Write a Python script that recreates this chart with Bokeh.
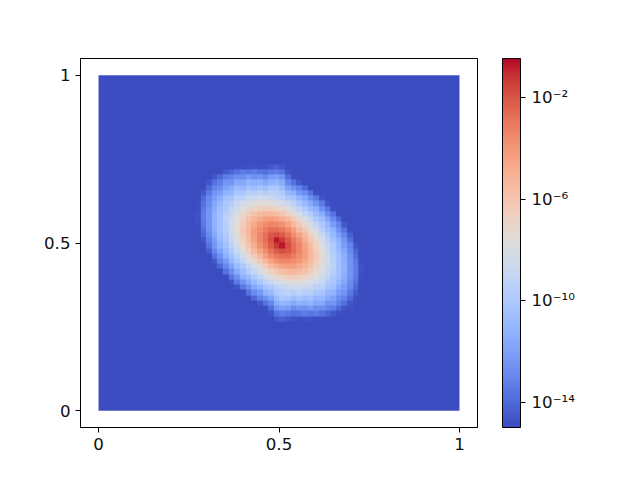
import numpy as np
from bokeh.plotting import figure
from bokeh.models import LogColorMapper, ColorBar, FixedTicker, Range1d
from bokeh.embed import file_html
from bokeh.resources import INLINE

x_ticks = [0, 0.5, 1]
x_labels = {0: "0", 0.5: "0.5", 1: "1"}
cbar_ticks = [1e-14, 1e-10, 1e-6, 1e-2]
cbar_labels = {1e-14: "10⁻¹⁴", 1e-10: "10⁻¹⁰", 1e-6: "10⁻⁶", 1e-2: "10⁻²"}
value_low = 1e-15
value_high = 0.35

# matplotlib coolwarm, sampled
coolwarm_rgb = [(59,76,192),(68,90,204),(77,104,215),(87,117,225),(98,130,234),(108,142,241),(119,154,247),
 (130,165,251),(141,176,254),(152,185,255),(163,194,255),(174,201,253),(184,208,249),(194,213,244),(204,217,238),
 (213,219,230),(221,221,221),(229,216,209),(236,211,197),(241,204,185),(245,196,173),(247,187,160),(247,177,148),
 (247,166,135),(244,154,123),(241,141,111),(236,127,99),(229,112,88),(222,96,77),(213,80,66),(203,62,56),(192,40,47),(180,4,38)]

# log10 of the field, read by eye. Cells of 1/64 over x, y in 0.25..0.75; rows run top to bottom
E = -15
log_field = [
[E]*32,
[E]*8+[-14.9,-14.9,-14.8,-14.8,-14.9,-14.8,-14.6,-14.3,-14.6]+[E]*15,
[E]*5+[-14.9,-14.5,-14.1,-13.7,-13.4,-13.6,-13.3,-13.6,-13.8,-13.5,-13.3,-13.7,-14.7]+[E]*14,
[E]*4+[-14.7,-14,-13.3,-13.1,-12.7,-12.7,-12.2,-12.6,-12.4,-12.8,-12.2,-12,-12.5,-13.9,-14.9]+[E]*13,
[E]*3+[-14.7,-13.8,-13.2,-12.4,-12.5,-11.7,-11.6,-11.1,-11.4,-11.2,-11.6,-11.2,-11,-11.5,-13,-13.7,-14.6]+[E]*12,
[E]*2+[-14.9,-14,-13.1,-12.7,-11.9,-11.5,-10.8,-11,-10.4,-10.7,-10.3,-10.6,-10.1,-10.1,-10.8,-11.9,-12.6,-13.1,-14,-15]+[E]*10,
[E]*2+[-14.5,-13.5,-12.5,-12.1,-11.1,-11,-10.2,-10.2,-9.6,-9.7,-9.3,-9.7,-9.3,-9.5,-9.9,-10.9,-11.2,-12.3,-12.8,-13.7,-14.9]+[E]*9,
[E]*2+[-14,-13,-12.2,-11.5,-10.5,-10.3,-9.4,-9.4,-8.7,-8.8,-8.4,-8.6,-8.7,-9.1,-9.3,-10.1,-10.3,-11.1,-11.7,-12.7,-13.5,-14.7]+[E]*8,
[E]*1+[-14.9,-13.7,-12.8,-11.7,-11,-10.2,-9.8,-8.9,-8.5,-8,-7.9,-7.5,-7.6,-7.6,-7.9,-8.2,-8.8,-9.4,-10.1,-10.8,-11.6,-12.5,-13.4,-14.7]+[E]*7,
[E]*1+[-14.9,-13.5,-12.5,-11.5,-10.6,-10.1,-9.1,-8.5,-7.8,-7.3,-6.8,-6.6,-6.4,-6.5,-6.8,-7.2,-7.8,-8.3,-9.2,-10,-10.8,-11.3,-12.6,-13.5,-14.9]+[E]*6,
[E]*1+[-14.8,-13.4,-12.4,-11.3,-10.5,-9.6,-8.9,-7.9,-7.2,-6.5,-5.9,-5.4,-5.2,-5.3,-5.6,-6,-6.7,-7.4,-8.1,-9,-9.8,-10.7,-11.5,-12.7,-13.7,-15]+[E]*5,
[E]*1+[-14.8,-13.4,-12.5,-11.1,-10.5,-9.4,-8.7,-7.7,-6.9,-5.9,-5.2,-4.7,-4.3,-4.3,-4.4,-4.9,-5.4,-6.3,-7.2,-8.1,-9,-10,-10.7,-11.8,-12.9,-14]+[E]*5,
[E]*1+[-14.9,-13.5,-12.5,-11.3,-10.4,-9.5,-8.4,-7.5,-6.5,-5.4,-4.7,-4,-3.6,-3.4,-3.5,-3.8,-4.4,-5.3,-6.2,-7.2,-8.1,-9.2,-10.1,-11,-12.2,-13.1,-14.6]+[E]*4,
[E]*2+[-13.9,-12.6,-11.4,-10.4,-9.7,-8.4,-7.5,-6.3,-5.3,-4.3,-3.6,-3.1,-2.7,-2.7,-3,-3.5,-4.3,-5.3,-6.2,-7.4,-8.3,-9.5,-10.5,-11.2,-12.6,-13.7,-15]+[E]*3,
[E]*2+[-14.2,-12.9,-11.7,-10.7,-9.8,-8.7,-7.7,-6.5,-5.3,-4.3,-3.4,-2.7,-2.1,-1.8,-2.2,-2.8,-3.6,-4.4,-5.4,-6.6,-7.8,-8.8,-10,-10.8,-11.9,-13,-14.4]+[E]*3,
[E]*2+[-14.7,-13.2,-12.2,-10.9,-10.1,-8.9,-7.9,-6.8,-5.6,-4.4,-3.5,-2.7,-1.8,-0.7,-1.3,-2.2,-3,-3.8,-4.9,-6.1,-7.2,-8.2,-9.4,-10.4,-11.3,-12.5,-13.8,-15]+[E]*2,
[E]*2+[-15,-13.7,-12.5,-11.2,-10.5,-9.3,-8.3,-7.2,-6,-4.9,-3.8,-3,-2.2,-1.3,-0.7,-1.8,-2.7,-3.5,-4.4,-5.6,-6.8,-7.9,-9,-10,-11,-12.2,-13.1,-14.7]+[E]*2,
[E]*3+[-14.4,-13,-11.9,-10.8,-10,-8.8,-7.8,-6.6,-5.4,-4.4,-3.6,-2.8,-2.2,-1.8,-2.1,-2.7,-3.4,-4.3,-5.3,-6.5,-7.7,-8.7,-9.8,-10.7,-11.7,-12.9,-14.2]+[E]*2,
[E]*3+[-15,-13.7,-12.6,-11.2,-10.5,-9.5,-8.3,-7.4,-6.2,-5.3,-4.3,-3.5,-3,-2.7,-2.7,-3.1,-3.6,-4.3,-5.3,-6.3,-7.5,-8.4,-9.7,-10.4,-11.4,-12.6,-13.9]+[E]*2,
[E]*4+[-14.6,-13.1,-12.2,-11,-10.1,-9.2,-8.1,-7.2,-6.2,-5.3,-4.4,-3.8,-3.5,-3.4,-3.6,-4,-4.7,-5.4,-6.5,-7.5,-8.4,-9.5,-10.4,-11.3,-12.5,-13.5,-14.9]+[E]*1,
[E]*5+[-14,-12.9,-11.8,-10.7,-10,-9,-8.1,-7.2,-6.3,-5.4,-4.9,-4.4,-4.3,-4.3,-4.7,-5.2,-5.9,-6.9,-7.7,-8.7,-9.4,-10.5,-11.1,-12.5,-13.4,-14.8]+[E]*1,
[E]*5+[-15,-13.7,-12.7,-11.5,-10.7,-9.8,-9,-8.1,-7.4,-6.7,-6,-5.6,-5.3,-5.2,-5.4,-5.9,-6.5,-7.2,-7.9,-8.9,-9.6,-10.5,-11.3,-12.4,-13.4,-14.8]+[E]*1,
[E]*6+[-14.9,-13.5,-12.6,-11.3,-10.8,-10,-9.2,-8.3,-7.8,-7.2,-6.8,-6.5,-6.4,-6.6,-6.8,-7.3,-7.8,-8.5,-9.1,-10.1,-10.6,-11.5,-12.5,-13.5,-14.9]+[E]*1,
[E]*7+[-14.7,-13.4,-12.5,-11.6,-10.8,-10.1,-9.4,-8.8,-8.2,-7.9,-7.6,-7.6,-7.5,-7.9,-8,-8.5,-8.9,-9.8,-10.2,-11,-11.7,-12.8,-13.7,-14.9]+[E]*1,
[E]*8+[-14.7,-13.5,-12.7,-11.7,-11.1,-10.3,-10.1,-9.3,-9.1,-8.7,-8.6,-8.4,-8.8,-8.7,-9.4,-9.4,-10.3,-10.5,-11.5,-12.2,-13,-14]+[E]*2,
[E]*9+[-14.9,-13.7,-12.8,-12.3,-11.2,-10.9,-9.9,-9.5,-9.3,-9.7,-9.3,-9.7,-9.6,-10.2,-10.2,-11,-11.1,-12.1,-12.5,-13.5,-14.5]+[E]*2,
[E]*10+[-15,-14,-13.1,-12.6,-11.9,-10.8,-10.1,-10.1,-10.6,-10.3,-10.7,-10.4,-11,-10.8,-11.5,-11.9,-12.7,-13.1,-14,-14.9]+[E]*2,
[E]*12+[-14.6,-13.7,-13,-11.5,-11,-11.2,-11.6,-11.2,-11.4,-11.1,-11.6,-11.7,-12.5,-12.4,-13.2,-13.8,-14.7,-14.9]+[E]*2,
[E]*13+[-14.9,-13.9,-12.5,-12,-12.2,-12.8,-12.4,-12.6,-12.2,-12.7,-12.7,-13.1,-13.3,-14,-14.7,-14.8]+[E]*3,
[E]*14+[-14.7,-13.7,-13.3,-13.5,-13.8,-13.6,-13.3,-13.6,-13.4,-13.7,-14.1,-14.5,-14.9,-14.9]+[E]*4,
[E]*15+[-14.6,-14.3,-14.6,-14.8,-14.9,-14.8,-14.8,-14.9,-14.9,-14.9,-15,-15]+[E]*5,
[E]*32,
]

rgb = np.array(coolwarm_rgb, dtype=float)
pos = np.linspace(0, 1, len(rgb))
palette = ["#%02x%02x%02x" % tuple(int(round(np.interp(t, pos, rgb[:, c]))) for c in range(3))
           for t in np.linspace(0, 1, 256)]
mapper = LogColorMapper(palette=palette, low=value_low, high=value_high)

N = 64
full = np.full((N, N), value_low)
patch = 10.0 ** np.array(log_field, dtype=float)[::-1]
full[16:48, 16:48] = patch

FONT = "DejaVu Sans"
p = figure(width=632, height=472, frame_width=397, frame_height=369,
           x_range=Range1d(-0.05, 1.05), y_range=Range1d(-0.05, 1.05),
           output_backend="svg", toolbar_location=None,
           min_border_left=80, min_border_top=58, min_border_bottom=45, min_border_right=10)
p.image(image=[full], x=0, y=0, dw=1, dh=1, color_mapper=mapper)
p.grid.visible = False
p.background_fill_color = "white"
p.outline_line_color = "black"
p.outline_line_width = 1
for ax in (p.xaxis[0], p.yaxis[0]):
    ax.ticker = FixedTicker(ticks=x_ticks)
    ax.major_label_overrides = x_labels
    ax.major_label_text_font = FONT
    ax.major_label_text_font_size = "16.67px"
    ax.major_label_text_color = "#111111"
    ax.major_tick_in = 0
    ax.major_tick_out = 5
    ax.minor_tick_line_color = None
    ax.axis_line_color = "black"
    ax.major_label_standoff = 5

cb = ColorBar(color_mapper=mapper, ticker=FixedTicker(ticks=cbar_ticks),
              major_label_overrides=cbar_labels, width=18, height=369,
              padding=0, margin=0, location=(25, 0),
              bar_line_color="black", bar_line_width=1,
              major_tick_in=0, major_tick_out=5, major_tick_line_color="black",
              minor_tick_line_color=None,
              major_label_text_font=FONT, major_label_text_font_size="16.67px",
              major_label_text_color="#111111", label_standoff=6,
              scale_alpha=1.0)
p.add_layout(cb, "right")

open("out.html", "w").write(file_html(p, INLINE))
